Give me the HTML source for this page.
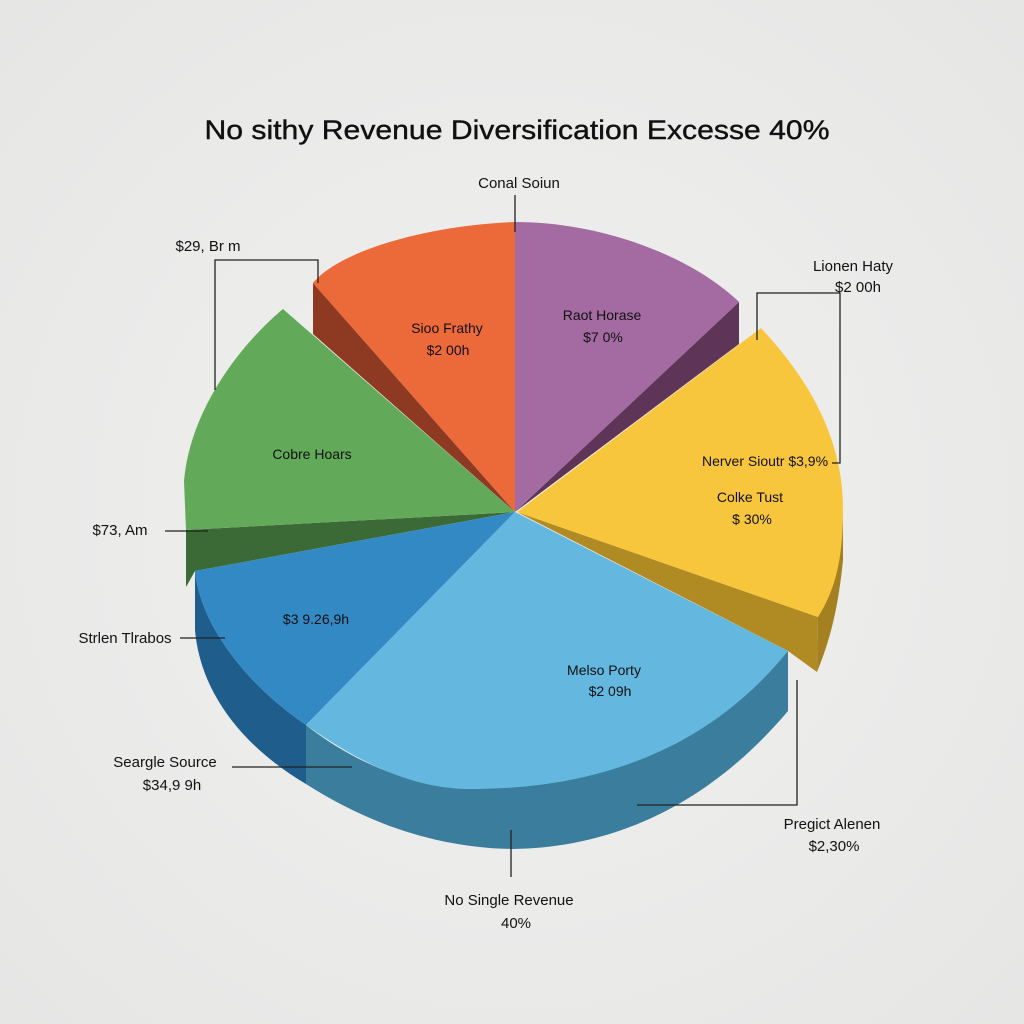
<!DOCTYPE html>
<html><head><style>html,body{margin:0;padding:0;background:#ececeb;}svg{display:block}</style></head>
<body>
<svg width="1024" height="1024" viewBox="0 0 1024 1024" xmlns="http://www.w3.org/2000/svg" font-family="Liberation Sans, sans-serif">
<defs><radialGradient id="bg" cx="50%" cy="50%" r="70%"><stop offset="0" stop-color="#f1f1f0"/><stop offset="1" stop-color="#e6e6e5"/></radialGradient></defs>
<rect width="1024" height="1024" fill="url(#bg)"/>
<text x="517" y="139" font-size="27" text-anchor="middle" fill="#111" textLength="625" lengthAdjust="spacingAndGlyphs" stroke="#111" stroke-width="0.4">No sithy Revenue Diversification Excesse 40%</text>

<!-- sides -->
<path d="M195,571 C200,620 240,680 306,725 L306,784 C240,745 200,690 195,630 Z" fill="#1f5d8c"/>
<path d="M306,725 L306,784 C370,825 440,848 513,849 C600,848 700,815 788,711 L788,651 C720,725 600,785 471,789 C410,787 350,760 306,725 Z" fill="#3a7d9c"/>
<path d="M186,530 L515,512 L195,571 L186,587 Z" fill="#3b6a36"/>
<path d="M313,283 L313,334 L515,512 Z" fill="#8e3a22"/>
<path d="M739,302 L739,344 L515,512 Z" fill="#5e3557"/>
<path d="M517,512 L818,617 L817,672 L788,651 Z" fill="#b08a22"/>
<path d="M818,617 C830,590 843,560 843,509 L843,560 C838,610 830,640 817,672 Z" fill="#a58020"/>

<!-- tops -->
<path d="M515,512 L313,283 C340,250 430,225 515,222 Z" fill="#ec6a3a"/>
<path d="M515,512 L515,222 C600,222 690,255 739,302 Z" fill="#a46ba3"/>
<path d="M517,512 L761,328 C800,370 843,430 843,509 C843,560 835,590 818,617 Z" fill="#f8c63c"/>
<path d="M515,512 L283,309 C240,345 190,410 184,481 L186,530 Z" fill="#62aa5a"/>
<path d="M515,512 L195,571 C200,620 240,680 306,725 Z" fill="#3389c4"/>
<path d="M515,512 L306,725 C370,770 420,789 471,789 C580,789 700,760 788,651 Z" fill="#64b8df"/>

<!-- leader lines -->
<g stroke="#222" stroke-width="1.3" fill="none">
<path d="M515,195 V232"/>
<path d="M215,390 V260 H318 V283"/>
<path d="M757,340 V293 H840 V463 H832"/>
<path d="M165,531 H208"/>
<path d="M180,638 H225"/>
<path d="M232,767 H352"/>
<path d="M637,805 H797 V680"/>
<path d="M511,830 V877"/>
</g>

<g font-size="15" fill="#111" text-anchor="middle">
<text x="519" y="188">Conal Soiun</text>
<text x="208" y="251">$29, Br m</text>
<text x="853" y="271">Lionen Haty</text>
<text x="858" y="292">$2 00h</text>
<text x="120" y="535">$73, Am</text>
<text x="125" y="643">Strlen Tlrabos</text>
<text x="165" y="767">Seargle Source</text>
<text x="172" y="790">$34,9 9h</text>
<text x="832" y="829">Pregict Alenen</text>
<text x="834" y="851">$2,30%</text>
<text x="509" y="905">No Single Revenue</text>
<text x="516" y="928">40%</text>
<g font-size="14">
<text x="447" y="333">Sioo Frathy</text>
<text x="448" y="355">$2 00h</text>
<text x="602" y="320">Raot Horase</text>
<text x="603" y="342">$7 0%</text>
<text x="312" y="459">Cobre Hoars</text>
<text x="765" y="466">Nerver Sioutr $3,9%</text>
<text x="750" y="502">Colke Tust</text>
<text x="752" y="524">$ 30%</text>
<text x="316" y="624">$3 9.26,9h</text>
<text x="604" y="675">Melso Porty</text>
<text x="610" y="696">$2 09h</text>
</g>
</g>
</svg>
</body></html>
